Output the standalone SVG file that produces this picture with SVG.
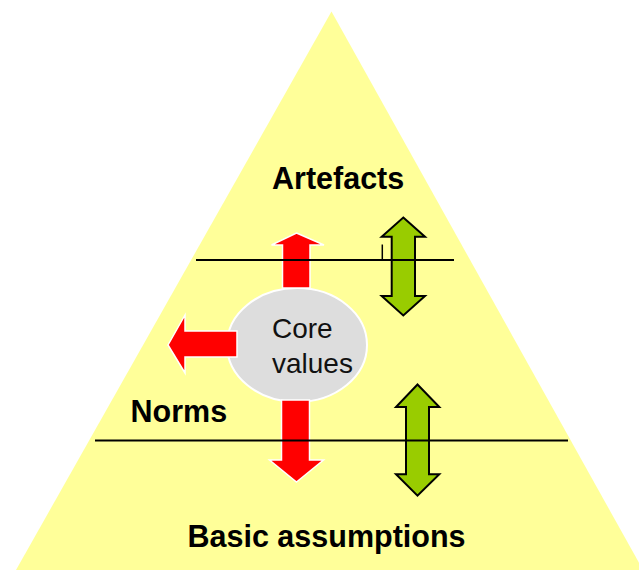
<svg xmlns="http://www.w3.org/2000/svg" width="639" height="570" viewBox="0 0 639 570">
<defs>
<style>
.tri{fill:#FFFF99;stroke:none}
.green{fill:#99CC00;stroke:#000;stroke-width:2;stroke-linejoin:miter}
.red{fill:#FF0000;stroke:#FFFFFF;stroke-width:1.5;stroke-linejoin:miter}
.ell{fill:#DDDDDD;stroke:#FFFFFF;stroke-width:2}
.ln{stroke:#000;stroke-width:1.8;fill:none}
.lbl{font-family:"Liberation Sans",Arial,sans-serif;font-weight:bold;font-size:30.5px;fill:#000}
.core{font-family:"Liberation Sans",Arial,sans-serif;font-size:28px;fill:#111}
</style>
</defs>
<rect width="639" height="570" fill="#FFFFFF"/>
<polygon class="tri" points="331.5,11.5 16,570 643,570"/>
<g id="green-arrow-upper">
<polygon class="green" points="403.3,217.5 425,236.7 415,236.7 415,296 425,296 403.3,315.5 381.7,296 391.7,296 391.7,236.7 381.7,236.7"/>
</g>
<g id="green-arrow-lower">
<polygon class="green" points="417.5,384.5 439.3,407 429,407 429,474.3 439.3,474.3 417.5,495.7 396,474.3 406,474.3 406,407 396,407"/>
</g>
<g id="core-values">
<ellipse class="ell" cx="297" cy="345" rx="70" ry="57"/>
<text class="core" x="272" y="338.3">Core</text>
<text class="core" x="272" y="372.7">values</text>
</g>
<g id="red-arrow-up">
<polygon class="red" points="296.5,233 324,245 310,245 310,288 282.5,288 282.5,245 271.5,245"/>
</g>
<g id="red-arrow-down">
<polygon class="red" points="296.5,482 323.5,460 309.5,460 309.5,400 281.5,400 281.5,460 269.5,460"/>
</g>
<g id="red-arrow-left">
<polygon class="red" points="168,345 185,315 185,331 237,331 237,357 185,357 185,373"/>
</g>
<g id="connectors">
<line class="ln" x1="196" y1="260" x2="454" y2="260"/>
<line class="ln" x1="95" y1="440.5" x2="568" y2="440.5"/>
<line x1="382.3" y1="244.5" x2="382.3" y2="260" stroke="#000" stroke-width="1.5"/>
</g>
<g id="artefacts"><text class="lbl" x="272" y="189">Artefacts</text></g>
<g id="norms"><text class="lbl" x="130.5" y="421.5">Norms</text></g>
<g id="basic-assumptions"><text class="lbl" x="187.5" y="547">Basic assumptions</text></g>
</svg>
